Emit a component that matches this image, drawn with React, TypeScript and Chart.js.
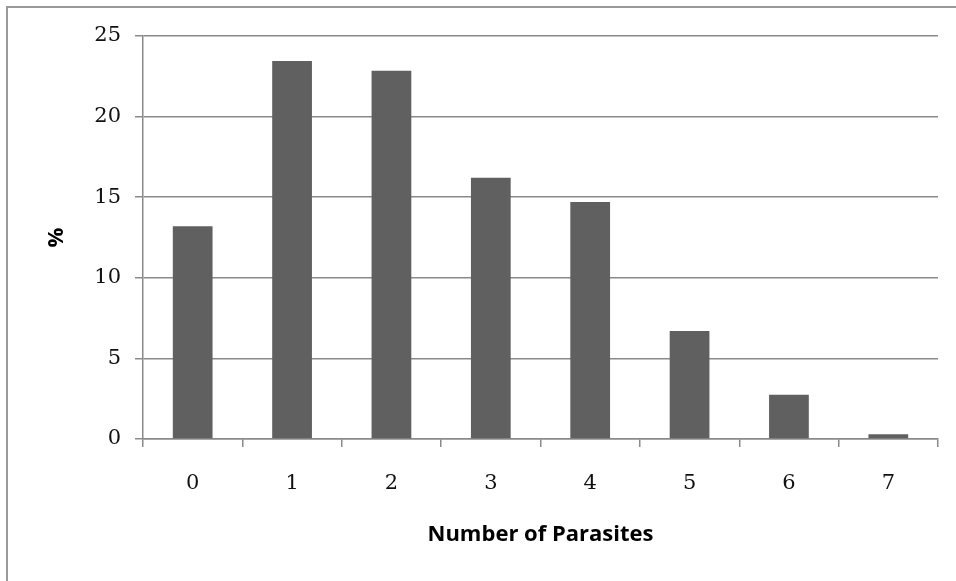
import React, { useEffect, useRef } from "react";
import { Chart, registerables } from "chart.js";

Chart.register(...registerables);

const categories = ["0", "1", "2", "3", "4", "5", "6", "7"];
const percentValues = [13.2, 23.45, 22.85, 16.2, 14.7, 6.7, 2.75, 0.3];
const yTickValues = [0, 5, 10, 15, 20, 25];
const xAxisTitle = "Number of Parasites";
const yAxisTitle = "%";

const GRID = "#8a8a8a";
const BAR = "#606060";

const framePlugin = {
  id: "frame",
  beforeDraw(chart: any) {
    const ctx = chart.ctx;
    ctx.save();
    ctx.fillStyle = "#ffffff";
    ctx.fillRect(0, 0, chart.width, chart.height);
    ctx.strokeStyle = "#9a9a9a";
    ctx.lineWidth = 2;
    ctx.beginPath();
    ctx.moveTo(7, chart.height + 5);
    ctx.lineTo(7, 7);
    ctx.lineTo(chart.width + 5, 7);
    ctx.stroke();
    ctx.restore();
  },
};

export default function App() {
  const ref = useRef<HTMLCanvasElement | null>(null);

  useEffect(() => {
    if (!ref.current) return;
    const chart = new Chart(ref.current, {
      type: "bar",
      data: {
        labels: categories,
        datasets: [
          {
            data: percentValues,
            backgroundColor: BAR,
            borderWidth: 0,
            categoryPercentage: 1,
            barPercentage: 0.4,
          },
        ],
      },
      plugins: [framePlugin],
      options: {
        responsive: false,
        animation: false,
        layout: { padding: { top: 36, right: 18, left: 0, bottom: 0 } },
        plugins: {
          legend: { display: false },
          tooltip: { enabled: false },
        },
        scales: {
          x: {
            offset: true,
            grid: {
              offset: true,
              drawOnChartArea: false,
              drawTicks: true,
              tickLength: 8,
              color: GRID,
              lineWidth: 1.5,
            },
            border: { display: true, color: GRID, width: 1.5 },
            ticks: {
              color: "#111",
              padding: 24,
              font: { family: "'DejaVu Serif'", size: 21 },
            },
            title: {
              display: true,
              text: xAxisTitle,
              color: "#000",
              font: { family: "'Open Sans'", size: 22, weight: "bold" },
              padding: { top: 0, bottom: 33 },
            },
            afterFit(scale: any) {
              scale.height = 142;
            },
          },
          y: {
            min: 0,
            max: 25,
            afterBuildTicks(scale: any) {
              scale.ticks = yTickValues.map((v) => ({ value: v }));
            },
            grid: {
              drawTicks: true,
              tickLength: 8,
              color: GRID,
              lineWidth: 1.5,
            },
            border: { display: true, color: GRID, width: 1.5 },
            ticks: {
              color: "#111",
              padding: 14,
              font: { family: "'DejaVu Serif'", size: 21 },
            },
            title: {
              display: true,
              text: yAxisTitle,
              color: "#000",
              font: { family: "'Open Sans'", size: 22, weight: "bold" },
              padding: { top: 44, bottom: 0 },
            },
            afterFit(scale: any) {
              scale.width = 143;
            },
          },
        },
      },
    });
    return () => chart.destroy();
  }, []);

  return (
    <div style={{ position: "absolute", left: 0, top: 0, width: 956, height: 581, overflow: "hidden" }}>
      <canvas ref={ref} width={956} height={581} style={{ display: "block" }} />
    </div>
  );
}
